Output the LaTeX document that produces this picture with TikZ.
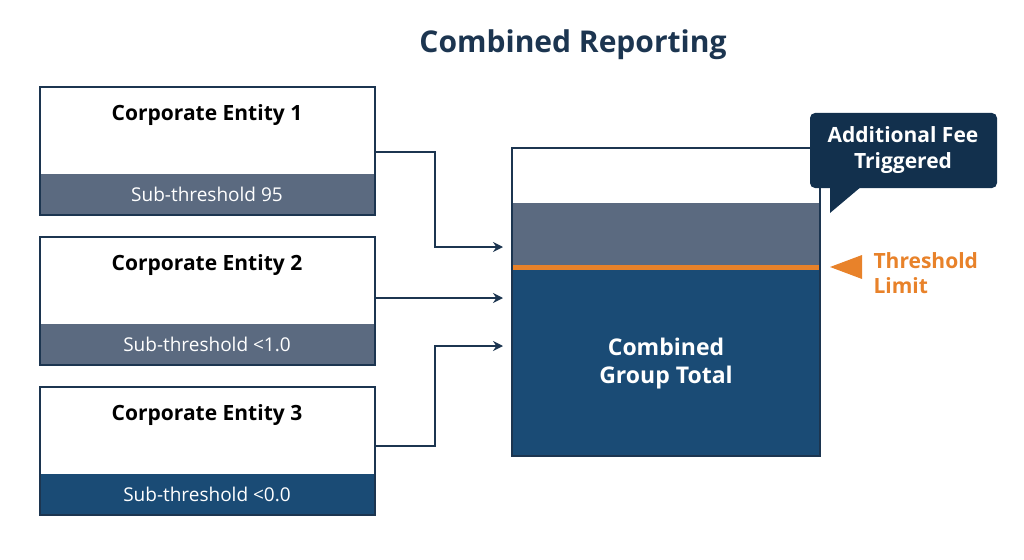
\documentclass[tikz,border=0pt]{standalone}
\usepackage{fontspec}
\setmainfont{Open Sans}
\usetikzlibrary{arrows.meta}
\definecolor{navy}{HTML}{1C3550}
\definecolor{slate}{HTML}{5B6A80}
\definecolor{dblue}{HTML}{1A4B75}
\definecolor{callbg}{HTML}{12304D}
\definecolor{orng}{HTML}{E8822A}
\begin{document}
\begin{tikzpicture}[x=1pt,y=-1pt,
  ent/.style={draw=navy,line width=1.8pt,fill=white},
  conn/.style={draw=navy,line width=1.8pt,-{Stealth[length=10pt,width=10pt]}},
  lbl/.style={font=\fontsize{21}{24}\selectfont\bfseries,text=black},
  sub/.style={font=\fontsize{19}{22}\selectfont,text=white}]
\useasboundingbox (0,0) rectangle (1024,559);
\node[font=\fontsize{30}{34}\selectfont\bfseries,text=navy] (title) at (573,45) {Combined Reporting};
% entities
\foreach \i/\y/\c/\t in {1/87/slate/{Sub-threshold 95},2/237/slate/{Sub-threshold <1.0},3/387/dblue/{Sub-threshold <0.0}}{
  \fill[\c] (40,\y+87) rectangle (375,\y+128);
  \draw[ent,fill=none] (40,\y) rectangle (375,\y+128);
  \node[lbl] (e\i) at (207,\y+28) {Corporate Entity \i};
  \node[sub] (s\i) at (207,\y+107) {\t};
}
\coordinate (o1) at (375,152); \coordinate (o2) at (375,298); \coordinate (o3) at (375,446);
\coordinate (i1) at (503,247); \coordinate (i2) at (503,298); \coordinate (i3) at (503,346);
% big box
\fill[slate] (512,203) rectangle (820,267);
\fill[dblue] (512,267) rectangle (820,456);
\draw[orng,line width=5pt] (512,267) -- (820,267);
\draw[navy,line width=1.8pt] (512,148) rectangle (820,456);
\node[text=white,font=\fontsize{23}{28}\selectfont\bfseries,align=center] (tot) at (666,364) {Combined\\Group Total};
\draw[conn] (o1) -- (435,152) -- (435,247) -- (i1);
\draw[conn] (o2) -- (i2);
\draw[conn] (o3) -- (435,446) -- (435,346) -- (i3);
% callout
\fill[callbg,rounded corners=5pt] (810,113) rectangle (997,188);
\fill[callbg] (830,186) -- (830,213) -- (862,186) -- cycle;
\node[text=white,font=\fontsize{21}{26}\selectfont\bfseries,align=center] (call) at (903,150) {Additional Fee\\Triggered};
% threshold
\fill[orng] (830,267) -- (862,255) -- (862,279) -- cycle;
\node[text=orng,font=\fontsize{21}{25}\selectfont\bfseries,align=left,anchor=west] (thr) at (870,273) {Threshold\\Limit};
\end{tikzpicture}
\end{document}
